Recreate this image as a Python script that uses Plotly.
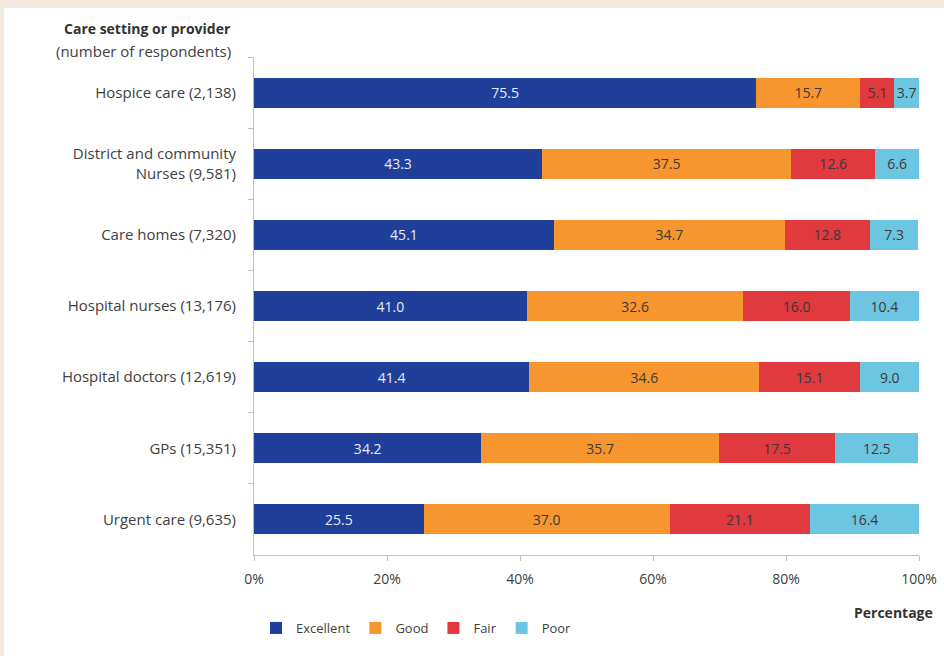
import plotly.graph_objects as go

categories = [
    "Hospice care (2,138)",
    "District and community<br>Nurses (9,581)",
    "Care homes (7,320)",
    "Hospital nurses (13,176)",
    "Hospital doctors (12,619)",
    "GPs (15,351)",
    "Urgent care (9,635)",
]
excellent = [75.5, 43.3, 45.1, 41.0, 41.4, 34.2, 25.5]
good = [15.7, 37.5, 34.7, 32.6, 34.6, 35.7, 37.0]
fair = [5.1, 12.6, 12.8, 16.0, 15.1, 17.5, 21.1]
poor = [3.7, 6.6, 7.3, 10.4, 9.0, 12.5, 16.4]

series = [
    ("Excellent", excellent, "#1F3F9A", "#E8ECF8"),
    ("Good", good, "#F7962F", "#3A3A3A"),
    ("Fair", fair, "#E0393E", "#3A3A3A"),
    ("Poor", poor, "#6DC6E1", "#3A3A3A"),
]

FONT = "'Open Sans', Lato, sans-serif"
PW, PH = 665, 498  # plot area size in px

fig = go.Figure()
for name, vals, color, tcolor in series:
    fig.add_trace(go.Bar(
        y=categories, x=vals, name=name, orientation="h",
        marker=dict(color=color, line=dict(width=0)),
        text=[f"{v:.1f}" for v in vals],
        textposition="inside", insidetextanchor="middle",
        constraintext="none", textangle=0,
        textfont=dict(color=tcolor, size=14, family=FONT),
        hoverinfo="skip",
    ))

fig.update_layout(
    barmode="stack",
    bargap=0.58,
    width=944, height=656,
    margin=dict(l=254, r=25, t=57, b=101),
    paper_bgcolor="#F3E9DF",
    plot_bgcolor="white",
    font=dict(family=FONT, size=14, color="#404040"),
    showlegend=True,
    legend=dict(orientation="h", traceorder="normal",
                xref="container", yref="container",
                x=256/944, y=1 - 628/656, xanchor="left", yanchor="middle",
                font=dict(size=13, color="#404040"), bgcolor="rgba(0,0,0,0)",
                itemwidth=30, tracegroupgap=0),
    xaxis=dict(range=[0, 100], tickvals=[0, 20, 40, 60, 80, 100],
               ticktext=["0%", "20%", "40%", "60%", "80%", "100%"],
               showgrid=False, zeroline=False, showline=True, linecolor="#BFBFBF",
               linewidth=1, ticks="outside", ticklen=5, tickcolor="#BFBFBF",
               ticklabelstandoff=6, automargin=False,
               tickfont=dict(size=14, color="#404040"), fixedrange=True),
    yaxis=dict(categoryorder="array", categoryarray=categories, autorange="reversed",
               showgrid=False, zeroline=False, showline=True, linecolor="#BFBFBF",
               linewidth=1, ticks="outside", ticklen=5, tickcolor="#BFBFBF",
               tickson="boundaries", ticklabelstandoff=14, automargin=False,
               tickfont=dict(size=15, color="#404040")),
    shapes=[dict(type="rect", xref="paper", yref="paper",
                 x0=-250/PW, x1=1 + 40/PW, y0=-120/PH, y1=1 + 49/PH,
                 fillcolor="white", line=dict(width=0), layer="below")],
    annotations=[
        dict(text="<b>Care setting or provider</b>", xref="paper", yref="paper",
             x=-21/PW, y=1 + 28/PH, xanchor="right", yanchor="middle",
             showarrow=False, font=dict(size=14, color="#333333")),
        dict(text="(number of respondents)", xref="paper", yref="paper",
             x=-21/PW, y=1 + 6/PH, xanchor="right", yanchor="middle",
             showarrow=False, font=dict(size=15, color="#404040")),
        dict(text="<b>Percentage</b>", xref="paper", yref="paper",
             x=1 + 16/PW, y=-57/PH, xanchor="right", yanchor="middle",
             showarrow=False, font=dict(size=14, color="#333333")),
    ],
)

fig.write_html("out.html")
